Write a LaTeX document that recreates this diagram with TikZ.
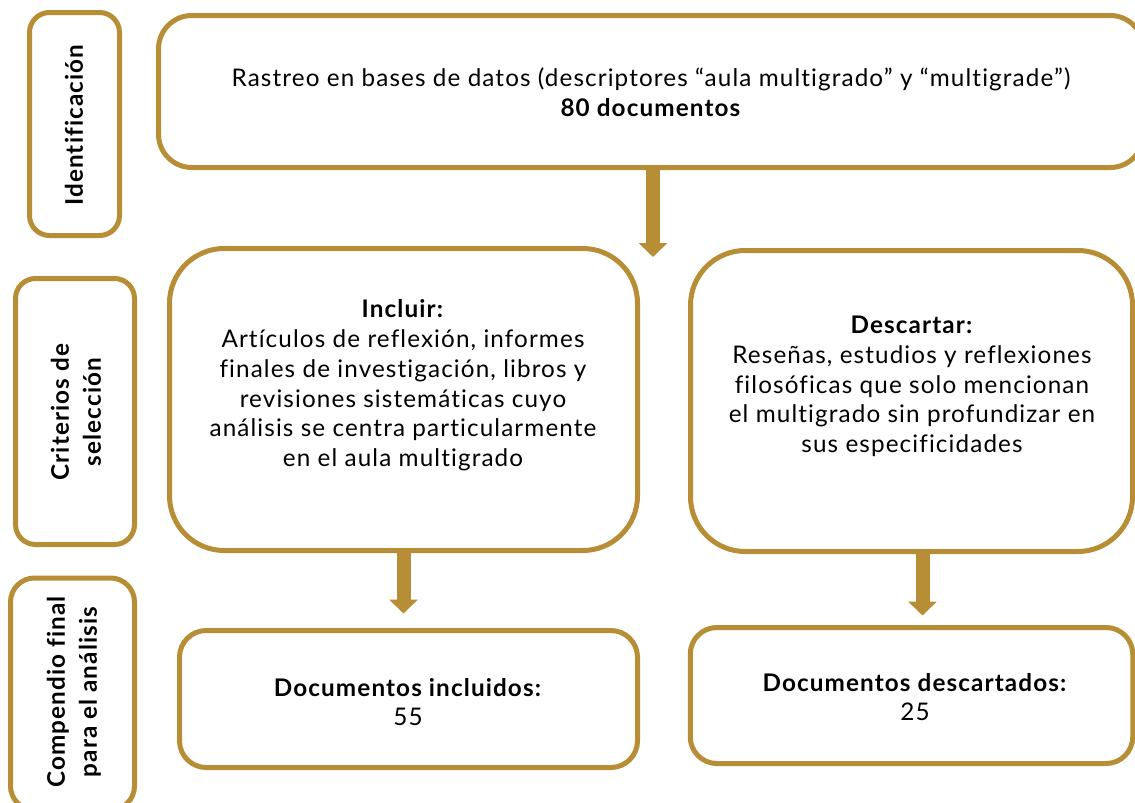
\documentclass[tikz,border=0pt]{standalone}
\usepackage{fontspec}
\setmainfont{Lato}[LetterSpace=4.6,Ligatures=NoCommon]
\usetikzlibrary{arrows.meta,calc}
\definecolor{gold}{RGB}{183,142,54}
\begin{document}
\begin{tikzpicture}[x=0.75pt,y=-0.75pt,
  box/.style={draw=gold,line width=3.75pt,outer sep=0pt,inner sep=0pt},
  txt/.style={align=center,font=\fontsize{18.2}{22.3}\selectfont,text=black,inner sep=0pt},
  side/.style={align=center,font=\fontsize{18.2}{24}\selectfont\bfseries,rotate=90,inner sep=0pt},
  arr/.style={draw=gold,line width=10.5pt,-{Triangle[length=10.5pt,width=21pt]}}]
\useasboundingbox (0,0) rectangle (1135,803);
\clip (0,0) rectangle (1135,803);
% side boxes
\node[box,rounded corners=15pt,minimum width=90*0.75pt,minimum height=223*0.75pt] (ident) at (74.5,124) {};
\node[box,rounded corners=15pt,minimum width=119*0.75pt,minimum height=266*0.75pt] (crit) at (75,411.5) {};
\node[box,rounded corners=18pt,minimum width=124*0.75pt,minimum height=232*0.75pt] (comp) at (72.5,694) {};
\node[side] (identt) at (74,125) {Identificación};
\node[side] (critt) at (76,412) {Criterios de\\selección};
\node[side] (compt) at (74,692) {Compendio final\\para el análisis};
% main boxes
\node[box,rounded corners=25pt,minimum width=985*0.75pt,minimum height=152*0.75pt] (top) at (651,91.5) {};
\node[box,rounded corners=41pt,minimum width=468*0.75pt,minimum height=302*0.75pt] (incl) at (403.5,399.5) {};
\node[box,rounded corners=41pt,minimum width=442*0.75pt,minimum height=301*0.75pt] (desc) at (911.5,401) {};
\node[box,rounded corners=20pt,minimum width=458*0.75pt,minimum height=137*0.75pt] (inclf) at (408.5,699) {};
\node[box,rounded corners=20pt,minimum width=442.5*0.75pt,minimum height=136*0.75pt] (descf) at (911.5,695.5) {};
% texts
\node[txt] (topt) at (651,92) {Rastreo en bases de datos (descriptores “aula multigrado” y “multigrade”)\\\textbf{80 documentos}};
\node[txt] (inclt) at (403,385.5) {\textbf{Incluir:}\\Artículos de reflexión, informes\\finales de investigación, libros y\\revisiones sistemáticas cuyo\\análisis se centra particularmente\\en el aula multigrado};
\node[txt] (desct) at (912,386.5) {\textbf{Descartar:}\\Reseñas, estudios y reflexiones\\filosóficas que solo mencionan\\el multigrado sin profundizar en\\sus especificidades};
\node[txt] (inclft) at (408,702) {\textbf{Documentos incluidos:}\\55};
\node[txt] (descft) at (915,697) {\textbf{Documentos descartados:}\\25};
% arrows
\coordinate (t1) at (653,257);
\draw[arr] (top.south -| t1) -- (t1);
\draw[arr] (incl.south) -- ($(incl.south |- inclf.north)+(0,-17)$);
\draw[arr] ($(desc.south)+(11,0)$) -- ($(descf.north)+(11,-12)$);
\end{tikzpicture}
\end{document}
